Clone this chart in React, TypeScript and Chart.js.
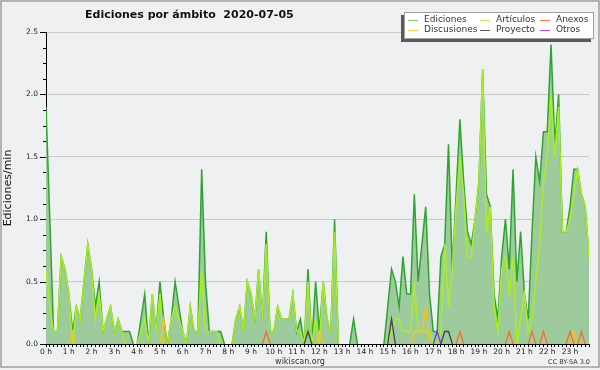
import React, { useEffect, useRef } from 'react';
import { Chart, registerables } from 'chart.js';

Chart.register(...registerables);

const FONT = 'DejaVu Sans';
const TITLE = 'Ediciones por ámbito  2020-07-05';
const Y_TITLE = 'Ediciones/min';
const FOOTER = 'wikiscan.org';
const LICENSE = 'CC BY-SA 3.0';

const hourLabels = ['0 h','1 h','2 h','3 h','4 h','5 h','6 h','7 h','8 h','9 h','10 h','11 h','12 h','13 h','14 h','15 h','16 h','17 h','18 h','19 h','20 h','21 h','22 h','23 h'];

// values every 10 minutes (edits per minute)
const ediciones = [
  1.9, 1.0, 0.1, 0.1, 0.7, 0.6, 0.4, 0.1, 0.3, 0.2,
  0.5, 0.8, 0.6, 0.3, 0.5, 0.1, 0.2, 0.3, 0.1, 0.2,
  0.1, 0.1, 0.1, 0, 0, 0.2, 0.4, 0, 0.4, 0.1,
  0.5, 0.2, 0, 0.2, 0.5, 0.3, 0.1, 0, 0.3, 0.1,
  0.1, 1.4, 0.5, 0.1, 0.1, 0.1, 0.1, 0, 0, 0,
  0.2, 0.3, 0.1, 0.5, 0.4, 0.2, 0.6, 0.2, 0.9, 0.1,
  0.1, 0.3, 0.2, 0.2, 0.2, 0.4, 0.1, 0.2, 0, 0.6,
  0, 0.5, 0.1, 0.5, 0.2, 0.1, 1.0, 0, 0, 0,
  0, 0.2, 0, 0, 0, 0, 0, 0, 0, 0,
  0.3, 0.6, 0.5, 0.3, 0.7, 0.4, 0.4, 1.2, 0.5, 0.8,
  1.1, 0.4, 0.1, 0.1, 0.7, 0.8, 1.6, 0.6, 1.2, 1.8,
  1.3, 0.9, 0.8, 1.0, 1.3, 2.2, 1.2, 1.1, 0.4, 0.2,
  0.7, 1.0, 0.6, 1.4, 0.5, 0.9, 0.4, 0.2, 0.9, 1.5,
  1.3, 1.7, 1.7, 2.4, 1.6, 2.0, 0.9, 0.9, 1.1, 1.4,
  1.4, 1.2, 1.1, 0.7,
];

const articulos = [
  0.6, 0.3, 0.1, 0.1, 0.7, 0.6, 0.4, 0, 0.3, 0.2,
  0.5, 0.8, 0.6, 0.2, 0.4, 0.1, 0.2, 0.3, 0.1, 0.2,
  0.1, 0, 0, 0, 0, 0.1, 0.2, 0, 0.4, 0.1,
  0.4, 0, 0, 0.2, 0.3, 0.2, 0.1, 0, 0.3, 0.1,
  0.1, 0.6, 0.1, 0.1, 0.1, 0.1, 0, 0, 0, 0,
  0.2, 0.3, 0.1, 0.5, 0.4, 0.2, 0.6, 0.2, 0.8, 0.1,
  0.1, 0.3, 0.2, 0.2, 0.2, 0.4, 0.1, 0.1, 0, 0.5,
  0, 0.2, 0, 0.5, 0.2, 0.1, 0.9, 0, 0, 0,
  0, 0, 0, 0, 0, 0, 0, 0, 0, 0,
  0, 0.1, 0.2, 0.2, 0.1, 0.1, 0.1, 0.5, 0.1, 0.1,
  0.1, 0.1, 0, 0, 0.1, 0.8, 0.3, 0.6, 1.1, 1.5,
  1.2, 0.7, 0.7, 1.0, 1.3, 2.2, 0.9, 1.1, 0.3, 0.1,
  0.6, 0.7, 0.4, 0.7, 0, 0.2, 0.4, 0.1, 0.2, 0.5,
  0.8, 1.3, 1.5, 2.0, 1.5, 1.9, 0.9, 0.9, 1.0, 1.2,
  1.4, 1.2, 1.1, 0.7,
];

// sparse series: [index, value]
const discusionesPts: [number, number][] = [[7, 0.1], [31, 0.2], [72, 0.1], [97, 0.1], [98, 0.1], [99, 0.1], [100, 0.3], [139, 0.1]];
const anexosPts: [number, number][] = [[58, 0.1], [109, 0.1], [122, 0.1], [128, 0.1], [131, 0.1], [138, 0.1], [141, 0.1]];
const proyectoPts: [number, number][] = [[69, 0.1], [91, 0.2], [105, 0.1], [106, 0.1]];
const otrosPts: [number, number][] = [[103, 0.1]];

const N = ediciones.length;

function expand(pts: [number, number][]): number[] {
  const arr = new Array(N).fill(0);
  pts.forEach(([i, v]) => { arr[i] = v; });
  return arr;
}

const legendItems = [
  { label: 'Ediciones', color: '#88cc88' },
  { label: 'Discusiones', color: '#ffcc44' },
  { label: 'Artículos', color: '#ccee55' },
  { label: 'Proyecto', color: '#555555' },
  { label: 'Anexos', color: '#ff7744' },
  { label: 'Otros', color: '#9955ee' },
];

function toXY(arr: number[]) {
  return arr.map((v, i) => ({ x: i, y: v }));
}

function seg(color: string) {
  return {
    borderColor: (ctx: any) => (ctx.p0.parsed.y === 0 && ctx.p1.parsed.y === 0 ? 'rgba(0,0,0,0)' : color),
  };
}

const isMajorY = (v: number) => Math.abs(v * 2 - Math.round(v * 2)) < 1e-6;

const decor = {
  id: 'decor',
  beforeDraw(chart: any) {
    const { ctx, width, height } = chart;
    ctx.save();
    ctx.fillStyle = '#eff0f2';
    ctx.fillRect(0, 0, width, height);
    ctx.restore();
  },
  afterDraw(chart: any) {
    const ctx = chart.ctx;
    const area = chart.chartArea;
    ctx.save();
    // frame
    ctx.fillStyle = '#b4b4b4';
    ctx.fillRect(0, 0, 600, 2);
    ctx.fillRect(0, 0, 2, 368);
    ctx.fillRect(598, 0, 2, 368);
    ctx.fillRect(0, 366, 600, 2);

    // y tick marks
    const ys = chart.scales.y;
    ctx.strokeStyle = '#000';
    ctx.lineWidth = 1;
    ys.ticks.forEach((t: any) => {
      const py = Math.round(ys.getPixelForValue(t.value)) + 0.5;
      const len = isMajorY(t.value) ? 6 : 3;
      ctx.beginPath();
      ctx.moveTo(area.left - len, py);
      ctx.lineTo(area.left, py);
      ctx.stroke();
    });

    // title
    ctx.fillStyle = '#111';
    ctx.font = `bold 11px "${FONT}"`;
    ctx.textAlign = 'left';
    ctx.textBaseline = 'alphabetic';
    ctx.fillText(TITLE, 85, 17.5);

    // footer
    ctx.fillStyle = '#333';
    ctx.font = `8px "${FONT}"`;
    ctx.textAlign = 'center';
    ctx.fillText(FOOTER, 300, 364);
    ctx.font = `6.5px "${FONT}"`;
    ctx.textAlign = 'right';
    ctx.fillText(LICENSE, 590, 364);

    // legend box
    const bx = 404, by = 12, bw = 190, bh = 27;
    ctx.fillStyle = '#5a5a5a';
    ctx.fillRect(bx - 3, by + 3, bw, bh);
    ctx.fillStyle = '#ffffff';
    ctx.fillRect(bx, by, bw, bh);
    ctx.strokeStyle = '#a0a0a0';
    ctx.lineWidth = 1;
    ctx.strokeRect(bx + 0.5, by + 0.5, bw - 1, bh - 1);
    const cols = [408, 480, 540];
    const rows = [19.5, 29.5];
    ctx.font = `9px "${FONT}"`;
    ctx.textAlign = 'left';
    ctx.textBaseline = 'middle';
    legendItems.forEach((it, k) => {
      const c = Math.floor(k / 2);
      const r = k % 2;
      const lx = cols[c];
      const ly = rows[r];
      ctx.strokeStyle = it.color;
      ctx.lineWidth = 1;
      ctx.beginPath();
      ctx.moveTo(lx, Math.round(ly) + 0.5);
      ctx.lineTo(lx + 10, Math.round(ly) + 0.5);
      ctx.stroke();
      ctx.fillStyle = '#333';
      ctx.fillText(it.label, lx + 16, ly);
    });
    ctx.restore();
  },
};

export default function App() {
  const ref = useRef<HTMLCanvasElement | null>(null);
  useEffect(() => {
    if (!ref.current) return;
    const chart = new Chart(ref.current, {
      type: 'line',
      data: {
        datasets: [
          {
            label: 'Otros', data: toXY(expand(otrosPts)), borderColor: '#7a33ee', borderWidth: 1.3,
            pointRadius: 0, fill: false, order: 1, segment: seg('#7a33ee'),
          },
          {
            label: 'Proyecto', data: toXY(expand(proyectoPts)), borderColor: '#444444', borderWidth: 1.3,
            pointRadius: 0, fill: false, order: 2, segment: seg('#444444'),
          },
          {
            label: 'Anexos', data: toXY(expand(anexosPts)), borderColor: '#ff6a22', borderWidth: 1.3,
            pointRadius: 0, fill: false, order: 3, segment: seg('#ff6a22'),
          },
          {
            label: 'Discusiones', data: toXY(expand(discusionesPts)), borderColor: '#ffbf22', borderWidth: 1.3,
            pointRadius: 0, fill: false, order: 4, segment: seg('#ffbf22'),
          },
          {
            label: 'Artículos', data: toXY(articulos), borderColor: '#aaee22', borderWidth: 1.5,
            pointRadius: 0, fill: false, order: 5, segment: seg('#aaee22'),
          },
          {
            label: 'Ediciones', data: toXY(ediciones), borderColor: '#2fa52f', borderWidth: 1.5,
            backgroundColor: '#9ecb9e', pointRadius: 0, fill: 'origin', order: 6, segment: seg('#2fa52f'),
          },
        ],
      },
      options: {
        responsive: false,
        animation: false,
        devicePixelRatio: 1,
        events: [],
        layout: { padding: { left: 0, right: 11, top: 32, bottom: 0 } },
        plugins: { legend: { display: false }, tooltip: { enabled: false }, title: { display: false } },
        elements: { line: { tension: 0 } },
        scales: {
          x: {
            type: 'linear',
            min: 0,
            max: N - 1,
            afterFit: (s: any) => { s.height = 26; },
            grid: { display: true, drawOnChartArea: false, drawTicks: true, tickLength: 3, tickColor: '#000' },
            border: { display: true, color: '#000', width: 1 },
            ticks: {
              stepSize: 1,
              autoSkip: false,
              maxTicksLimit: 500,
              maxRotation: 0,
              minRotation: 0,
              padding: 1,
              color: '#222',
              font: { family: FONT, size: 7.5 },
              callback: (v: any) => (Number(v) % 6 === 0 ? hourLabels[Number(v) / 6] : ''),
            },
          },
          y: {
            min: 0,
            max: 2.5,
            afterFit: (s: any) => { s.width = 46; },
            grid: {
              display: true,
              drawOnChartArea: true,
              drawTicks: false,
              color: (c: any) => (c.tick && isMajorY(c.tick.value) ? '#c9c9c9' : 'rgba(0,0,0,0)'),
            },
            border: { display: true, color: '#000', width: 1 },
            title: { display: true, text: Y_TITLE, color: '#111', font: { family: FONT, size: 11 }, padding: { top: 2, bottom: 0 } },
            ticks: {
              stepSize: 0.125,
              autoSkip: false,
              maxTicksLimit: 100,
              padding: 8,
              color: '#222',
              font: { family: FONT, size: 7.5 },
              callback: (v: any) => (isMajorY(Number(v)) ? Number(v).toFixed(1) : ''),
            },
          },
        },
      },
      plugins: [decor],
    } as any);
    return () => chart.destroy();
  }, []);
  return (
    <div style={{ position: 'absolute', left: 0, top: 0, width: 600, height: 370 }}>
      <canvas ref={ref} width={600} height={370} style={{ display: 'block', width: 600, height: 370 }} />
    </div>
  );
}
